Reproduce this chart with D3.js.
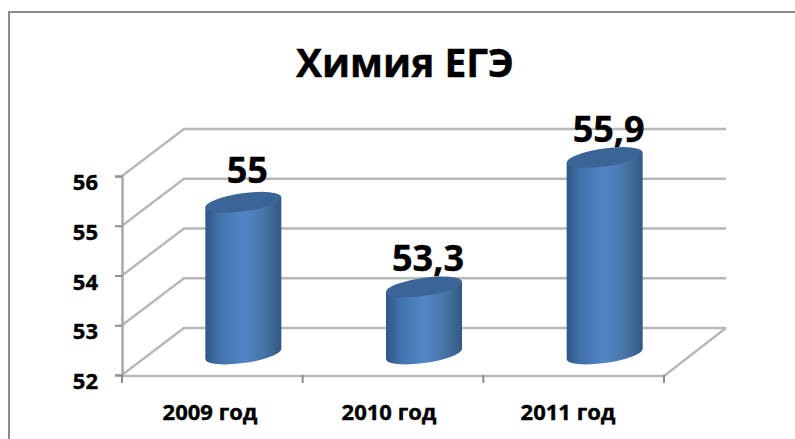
<!DOCTYPE html>
<html>
<head>
<meta charset="utf-8">
<script src="https://cdn.jsdelivr.net/npm/d3@7"></script>
<style>
  html, body { margin: 0; padding: 0; background: #fff; overflow: hidden; }
  svg { display: block; }
  text { font-family: "Open Sans", "Noto Sans", sans-serif; font-weight: 700; fill: #000; stroke: #000; stroke-width: 0.4px; }
</style>
</head>
<body>
<div id="chart"></div>
<script>
  // values
  var titleText = "Химия ЕГЭ";
  var years = ["2009 год", "2010 год", "2011 год"];
  var scores = [55, 53.3, 55.9];
  var scoreLabels = ["55", "53,3", "55,9"];
  var yTicks = [52, 53, 54, 55, 56];

  var width = 795, height = 439;
  var dx = 62, dy = -47; // depth of the 3d box

  var svg = d3.select("#chart").append("svg")
      .attr("width", width)
      .attr("height", height);

  // horizontal shading of the cylinders
  var grad = svg.append("defs").append("linearGradient").attr("id", "cyl");
  grad.append("stop").attr("offset", "0%").attr("stop-color", "#305686");
  grad.append("stop").attr("offset", "18%").attr("stop-color", "#4171aa");
  grad.append("stop").attr("offset", "50%").attr("stop-color", "#5286c8");
  grad.append("stop").attr("offset", "78%").attr("stop-color", "#4674a4");
  grad.append("stop").attr("offset", "100%").attr("stop-color", "#325883");

  // outer frame, runs off the right and bottom of the picture
  svg.append("rect")
      .attr("x", 9).attr("y", 12)
      .attr("width", 820).attr("height", 460)
      .attr("fill", "#fff")
      .attr("stroke", "#8c8c8c")
      .attr("stroke-width", 2);

  // scales
  var x = d3.scaleBand().domain(years).range([122, 664]);
  var y = d3.scaleLinear().domain([52, 56]).range([375, 176]);
  var xLabel = d3.scalePoint().domain(years).range([210, 568]);

  // gridlines on side and back wall
  var grid = svg.append("g")
      .attr("fill", "none")
      .attr("stroke", "#b8b8b8")
      .attr("stroke-width", 2.5);

  yTicks.forEach(function(d) {
    grid.append("path").attr("d", d3.line()([
      [x.range()[0], y(d)],
      [x.range()[0] + dx, y(d) + dy],
      [x.range()[1] + dx, y(d) + dy]
    ]));
  });

  // floor front and right edge
  grid.append("path").attr("d", d3.line()([
    [x.range()[0], y(52) + 1],
    [x.range()[1], y(52) + 1],
    [x.range()[1] + dx, y(52) + dy]
  ]));

  // y axis
  var yAxis = svg.append("g")
      .attr("transform", "translate(" + x.range()[0] + ",0)")
      .call(d3.axisLeft(y).tickValues(yTicks).tickSize(7).tickPadding(17).tickFormat(d3.format("d")));
  yAxis.select(".domain").attr("stroke", "#a8a8a8").attr("stroke-width", 2.5);
  yAxis.selectAll("line").attr("stroke", "#8c8c8c").attr("stroke-width", 2);
  yAxis.selectAll("text").attr("font-size", 22).attr("dy", "0.62em").style("fill", "#000");

  // x axis labels
  svg.append("g").selectAll("text")
      .data(years)
      .join("text")
      .attr("x", function(d) { return xLabel(d); })
      .attr("y", 420)
      .attr("text-anchor", "middle")
      .attr("font-size", 22)
      .text(function(d) { return d; });

  // x axis ticks
  svg.append("g").selectAll("line")
      .data(x.domain().concat(["end"]))
      .join("line")
      .attr("x1", function(d) { return d === "end" ? x.range()[1] : x(d); })
      .attr("x2", function(d) { return d === "end" ? x.range()[1] : x(d); })
      .attr("y1", y(52))
      .attr("y2", y(52) + 8)
      .attr("stroke", "#8c8c8c")
      .attr("stroke-width", 2);

  // cylinders stand in the middle of the floor depth
  var halfW = 38, ry = 9, tilt = -8;
  var th = tilt * Math.PI / 180;
  var rx = Math.sqrt((halfW * halfW - ry * ry * Math.sin(th) * Math.sin(th)) / (Math.cos(th) * Math.cos(th)));
  // y of the ellipse where its side touches the cylinder edge
  var slope = (rx * rx - ry * ry) * Math.sin(th) * Math.cos(th) / halfW;
  var baseDrop = 2.5;

  var bars = svg.append("g").selectAll("g")
      .data(years)
      .join("g")
      .attr("transform", function(d) {
        return "translate(" + (x(d) + x.bandwidth() / 2 + dx / 2) + "," + (y(52) + dy / 2) + ")";
      });

  function barHeight(i) { return y(52) - y(scores[i]); }

  bars.append("path")
      .attr("fill", "url(#cyl)")
      .attr("d", function(d, i) {
        var h = barHeight(i);
        return "M" + (-halfW) + "," + (-slope - h) +
          "L" + (-halfW) + "," + (-slope + baseDrop) +
          "A" + rx + "," + ry + " " + tilt + " 0 0 " + halfW + "," + (slope + baseDrop) +
          "L" + halfW + "," + (slope - h) + "Z";
      });

  bars.append("ellipse")
      .attr("rx", rx)
      .attr("ry", ry)
      .attr("fill", "#3a6596")
      .attr("transform", function(d, i) {
        return "translate(0," + (-barHeight(i)) + ") rotate(" + tilt + ")";
      });

  // gap between cylinder top and its label
  var labelGap = [19.5, 15.5, 15.5];

  bars.append("text")
      .attr("text-anchor", "middle")
      .attr("font-size", 36)
      .attr("x", 4)
      .attr("y", function(d, i) { return -barHeight(i) - labelGap[i]; })
      .text(function(d, i) { return scoreLabels[i]; });

  // title
  svg.append("text")
      .attr("x", 405)
      .attr("y", 77)
      .attr("text-anchor", "middle")
      .attr("font-size", 39)
      .text(titleText);
</script>
</body>
</html>
